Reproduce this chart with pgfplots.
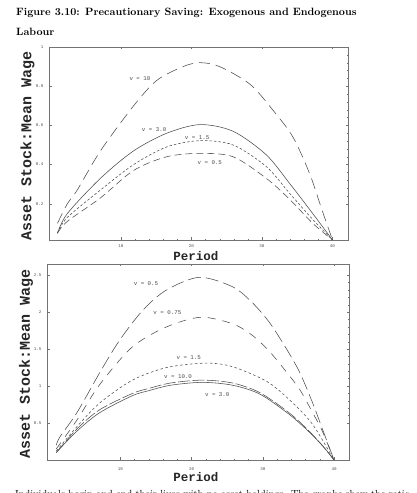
\documentclass[border=0pt]{standalone}
\usepackage{fontspec}
\setmonofont{Liberation Mono}
\usepackage{pgfplots}
\pgfplotsset{compat=1.18}

\definecolor{ink}{gray}{0.30}
\definecolor{frame}{gray}{0.45}

\tikzset{
  vlabel/.style={font=\ttfamily\fontsize{5.8}{6}\selectfont, text=ink, inner sep=0pt},
}

\pgfplotsset{
  savingpanel/.style={
    scale only axis,
    axis line style={frame, line width=0.5pt},
    tick style={frame, line width=0.3pt},
    major tick length=2.5pt,
    minor tick length=1.3pt,
    tick align=inside,
    xtick={10,20,30,40},
    minor x tick num=4,
    minor y tick num=4,
    ticklabel style={font=\ttfamily\fontsize{4.2}{5}\selectfont, text=ink},
    yticklabel style={xshift=-2pt},
    xticklabel style={yshift=-1pt},
    /pgf/number format/assume math mode=true,
    clip=false,
    every axis plot/.append style={ink, line width=0.55pt, smooth, no marks},
  },
}

\begin{document}
\begin{tikzpicture}[x=1pt,y=1pt]
\useasboundingbox (0pt,0pt) rectangle (416pt,493pt);

% heading
\node[anchor=base west, inner sep=0pt, font=\bfseries\fontsize{10.6}{12}\selectfont] at (16pt,477.5pt)
  {Figure 3.10: Precautionary Saving: Exogenous and Endogenous};
\node[anchor=base west, inner sep=0pt, font=\bfseries\fontsize{10.6}{12}\selectfont] at (16pt,457.5pt)
  {Labour};

% ---------------- exogenous labour ----------------
\begin{axis}[savingpanel,
  at={(49pt,253pt)}, anchor=south west,
  width=299pt, height=193pt,
  xmin=-0.2, xmax=42.2, ymin=0.015, ymax=1.0,
  ytick={0.2,0.4,0.6,0.8,1},
  yticklabels={0.2,0.4,0.6,0.8,1},
]
% v = 10
\addplot[dash pattern=on 11pt off 6pt] coordinates {
 (1,0.10) (2.4,0.20) (3.8,0.27) (7.1,0.47) (11.8,0.70) (15.1,0.83) (18.8,0.90)
 (21.2,0.92) (24,0.90) (28.3,0.81) (31.5,0.68) (34.4,0.54) (36.8,0.35) (38.4,0.18) (40,0.015)};
% v = 3.0
\addplot[solid] coordinates {
 (1,0.05) (2.4,0.15) (7.1,0.33) (11.8,0.47) (16.5,0.56) (21.2,0.604)
 (25.9,0.57) (30.6,0.45) (34,0.30) (37.2,0.15) (40,0.015)};
% v = 1.5
\addplot[dash pattern=on 2.5pt off 2pt] coordinates {
 (1,0.05) (2.4,0.13) (7.1,0.27) (11.8,0.40) (16.5,0.49) (21.2,0.522)
 (25.9,0.50) (30.6,0.39) (34,0.25) (37.2,0.12) (40,0.015)};
% v = 0.5
\addplot[dash pattern=on 7pt off 4pt] coordinates {
 (1,0.05) (2.4,0.11) (7.1,0.23) (11.8,0.37) (16.5,0.44) (21.2,0.457)
 (25.9,0.44) (30.6,0.33) (34,0.22) (37.2,0.10) (40,0.015)};
\node[vlabel] at (axis cs:12.7,0.84) {v = 10};
\node[vlabel] at (axis cs:14.7,0.58) {v = 3.0};
\node[vlabel] at (axis cs:20.8,0.535) {v = 1.5};
\node[vlabel] at (axis cs:22.6,0.41) {v = 0.5};
\end{axis}
\node[font=\ttfamily\bfseries\fontsize{15}{16}\selectfont, text=black!85, rotate=90] at (27.5pt,347.5pt)
  {Asset Stock:Mean Wage};
\node[font=\ttfamily\bfseries\fontsize{12.5}{13}\selectfont, text=black!85] at (196pt,236.5pt) {Period};

% ---------------- endogenous labour ----------------
\begin{axis}[savingpanel,
  at={(47pt,33pt)}, anchor=south west,
  width=302pt, height=196pt,
  xmin=-0.3, xmax=42.1, ymin=0, ymax=2.65,
  ytick={0.5,1,1.5,2,2.5},
  yticklabels={0.5,1,1.5,2,2.5},
  xticklabel style={yshift=-3pt},
]
% v = 0.5
\addplot[dash pattern=on 13pt off 5pt] coordinates {
 (1,0.20) (1.5,0.31) (3.9,0.64) (7.1,1.18) (9.9,1.62) (13.2,2.03) (16.5,2.30) (21.1,2.47)
 (25.8,2.34) (28.6,2.12) (31,1.85) (33.4,1.49) (35.2,1.18) (37,0.77) (38.4,0.41) (40,0.0)};
% v = 0.75
\addplot[dash pattern=on 8pt off 7pt] coordinates {
 (1,0.15) (3.9,0.54) (7.1,1.02) (11.7,1.53) (16.5,1.80) (21.3,1.93)
 (25.8,1.84) (28.6,1.68) (31,1.46) (33.4,1.18) (35.2,0.95) (37,0.64) (38.4,0.38) (40,0.0)};
% v = 1.5
\addplot[dash pattern=on 2.5pt off 2.5pt] coordinates {
 (1,0.12) (3.9,0.45) (7.1,0.77) (11.7,1.08) (16.5,1.25) (22,1.31)
 (25.8,1.26) (30.6,1.06) (34,0.79) (37,0.48) (40,0.0)};
% v = 10.0
\addplot[dash pattern=on 12pt off 2.5pt] coordinates {
 (1,0.10) (3.9,0.42) (7.1,0.68) (11.7,0.90) (14.1,0.97) (17,1.04) (21.5,1.08)
 (25.8,1.04) (29.6,0.91) (33.8,0.63) (36.6,0.38) (38.5,0.18) (40,0.0)};
% v = 3.0
\addplot[solid] coordinates {
 (1,0.10) (3.9,0.39) (7.1,0.64) (11.7,0.87) (14.1,0.94) (17,1.01) (21.5,1.05)
 (25.8,1.01) (29.6,0.89) (33.8,0.61) (36.6,0.37) (38.5,0.18) (40,0.0)};
\node[vlabel] at (axis cs:13.6,2.39) {v = 0.5};
\node[vlabel] at (axis cs:16.6,1.99) {v = 0.75};
\node[vlabel] at (axis cs:19.6,1.39) {v = 1.5};
\node[vlabel] at (axis cs:18.1,1.13) {v = 10.0};
\node[vlabel] at (axis cs:23.6,0.89) {v = 3.0};
\end{axis}
\node[font=\ttfamily\bfseries\fontsize{15}{16}\selectfont, text=black!85, rotate=90] at (26pt,129.5pt)
  {Asset Stock:Mean Wage};
\node[font=\ttfamily\bfseries\fontsize{12.5}{13}\selectfont, text=black!85] at (196pt,16.3pt) {Period};

% running text below the figure
\node[anchor=base west, inner sep=0pt, font=\fontsize{10.3}{12}\selectfont] at (15pt,-4.5pt)
  {Individuals begin and end their lives with no asset holdings. The graphs show the ratio};
\end{tikzpicture}
\end{document}
